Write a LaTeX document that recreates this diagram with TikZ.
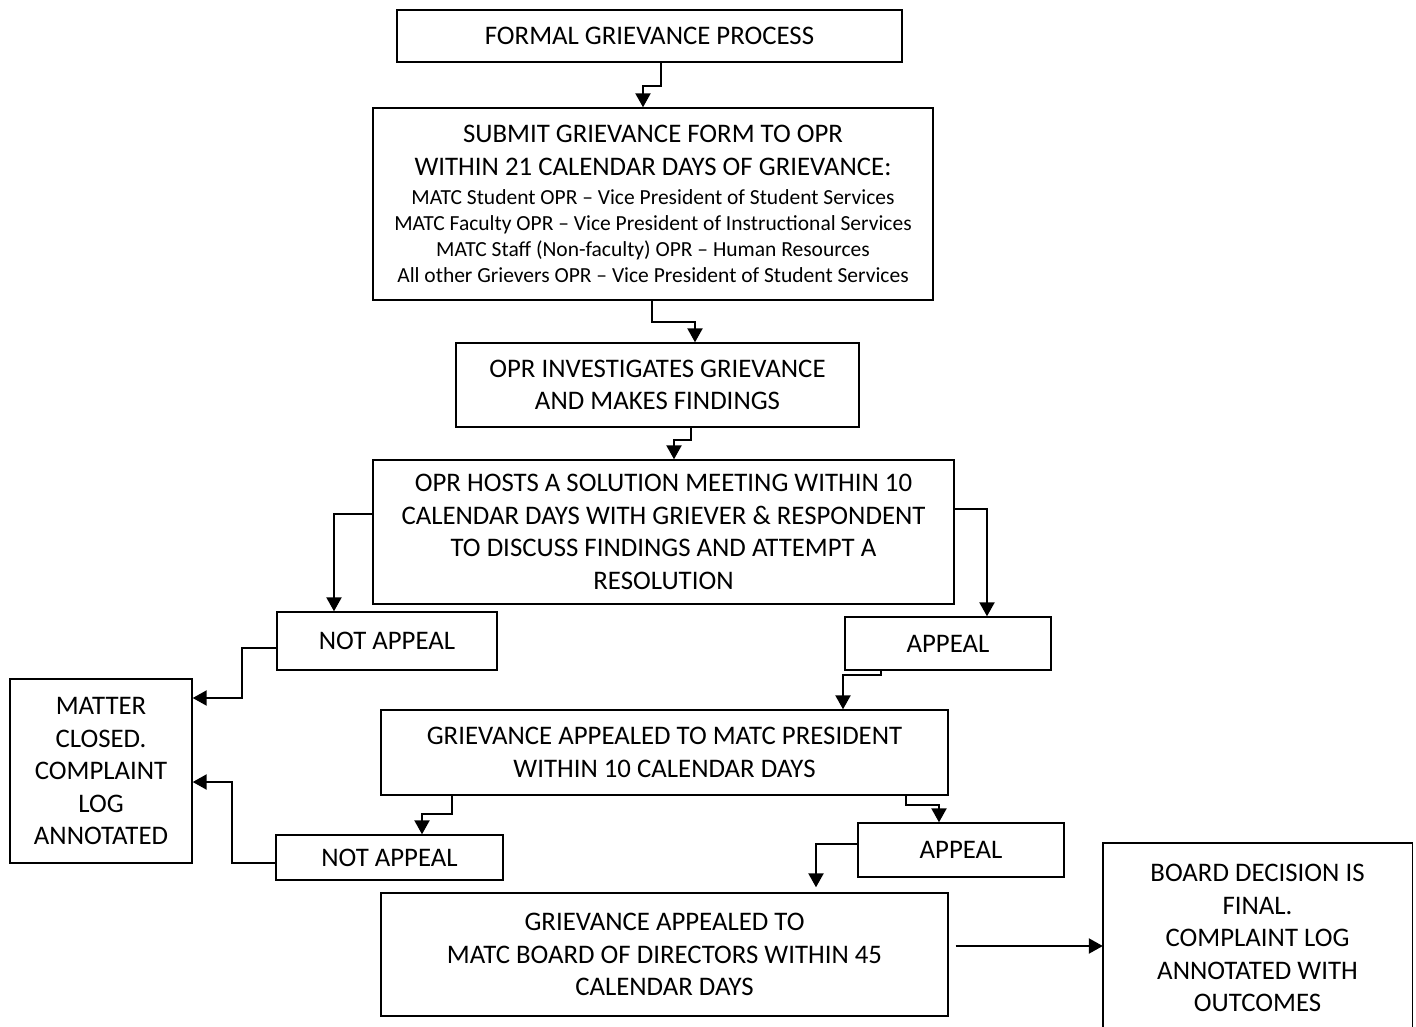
\documentclass[tikz,border=0pt]{standalone}
\usepackage{fontspec}
\setmainfont{Carlito}
\usetikzlibrary{arrows.meta,calc}
\newcommand{\bigtxt}{\fontsize{26.8}{32.5}\selectfont}
\newcommand{\smtxt}{\fontsize{21.5}{26}\selectfont}
\begin{document}
\begin{tikzpicture}[x=1pt,y=-1pt,
  box/.style={draw,line width=1.4pt,inner sep=0pt,align=center,font=\bigtxt},
  conn/.style={line width=2.2pt,-{Triangle[width=15pt,length=14pt]}}]
\useasboundingbox (0,0) rectangle (1416,1026);
\node[box,minimum width=505,minimum height=52] (b1) at (649.5,36) {FORMAL GRIEVANCE PROCESS};
\node[box,minimum width=560,minimum height=192] (b2) at (653,204) {SUBMIT GRIEVANCE FORM TO OPR\\WITHIN 21 CALENDAR DAYS OF GRIEVANCE:\\[-3pt]\smtxt MATC Student OPR -- Vice President of Student Services\\[-6.5pt]\smtxt MATC Faculty OPR -- Vice President of Instructional Services\\[-6.5pt]\smtxt MATC Staff (Non-faculty) OPR -- Human Resources\\[-6.5pt]\smtxt All other Grievers OPR -- Vice President of Student Services};
\node[box,minimum width=403,minimum height=84] (b3) at (657.5,385) {OPR INVESTIGATES GRIEVANCE\\AND MAKES FINDINGS};
\node[box,minimum width=581,minimum height=144] (b4) at (663.5,532) {OPR HOSTS A SOLUTION MEETING WITHIN 10\\CALENDAR DAYS WITH GRIEVER \& RESPONDENT\\TO DISCUSS FINDINGS AND ATTEMPT A\\RESOLUTION};
\node[box,minimum width=220,minimum height=58] (b5) at (387,641) {NOT APPEAL};
\node[box,minimum width=206,minimum height=53] (b6) at (948,643.5) {APPEAL};
\node[box,minimum width=182,minimum height=184] (b7) at (101,771) {MATTER\\CLOSED.\\COMPLAINT\\LOG\\ANNOTATED};
\node[box,minimum width=567,minimum height=85] (b8) at (664.5,752.5) {GRIEVANCE APPEALED TO MATC PRESIDENT\\WITHIN 10 CALENDAR DAYS};
\node[box,minimum width=227,minimum height=45] (b9) at (389.5,857.5) {NOT APPEAL};
\node[box,minimum width=206,minimum height=54] (b10) at (961,850) {APPEAL};
\node[box,minimum width=567,minimum height=123] (b11) at (664.5,954.5) {GRIEVANCE APPEALED TO\\MATC BOARD OF DIRECTORS WITHIN 45\\CALENDAR DAYS};
\node[inner sep=0pt,align=center,font=\bigtxt,minimum width=309,minimum height=190] (b12) at (1257.5,938) {BOARD DECISION IS\\FINAL.\\COMPLAINT LOG\\ANNOTATED WITH\\OUTCOMES};
\draw[line width=1.4pt] (b12.south west) -- (b12.north west) -- (b12.north east) -- (b12.south east);
% connectors
\draw[conn] (661,0 |- b1.south) -- (661,86) -- (643,86) -- (643,0 |- b2.north);
\draw[conn] (652,0 |- b2.south) -- (652,322) -- (695,322) -- (695,0 |- b3.north);
\draw[conn] (691,0 |- b3.south) -- (691,440) -- (674,440) -- (674,0 |- b4.north);
\draw[conn] (b4.west |- 0,514) -- (334,514) -- (334,0 |- b5.north);
\draw[conn] (b4.east |- 0,509) -- (987,509) -- (987,0 |- b6.north);
\draw[conn] (b5.west |- 0,648) -- (242,648) -- (242,698) -- (b7.east |- 0,698);
\draw[conn] (881,0 |- b6.south) -- (881,675) -- (843,675) -- (843,0 |- b8.north);
\draw[conn] (452,0 |- b8.south) -- (452,814) -- (422,814) -- (422,0 |- b9.north);
\draw[conn] (906,0 |- b8.south) -- (906,805) -- (939,805) -- (939,0 |- b10.north);
\draw[conn,shorten >=5pt] (b10.west |- 0,844) -- (816,844) -- (816,0 |- b11.north);
\draw[conn] (b9.west |- 0,863) -- (232,863) -- (232,782) -- (b7.east |- 0,782);
\draw[conn] ($(b11.east |- 0,946)+(7,0)$) -- (b12.west |- 0,946);
\end{tikzpicture}
\end{document}
